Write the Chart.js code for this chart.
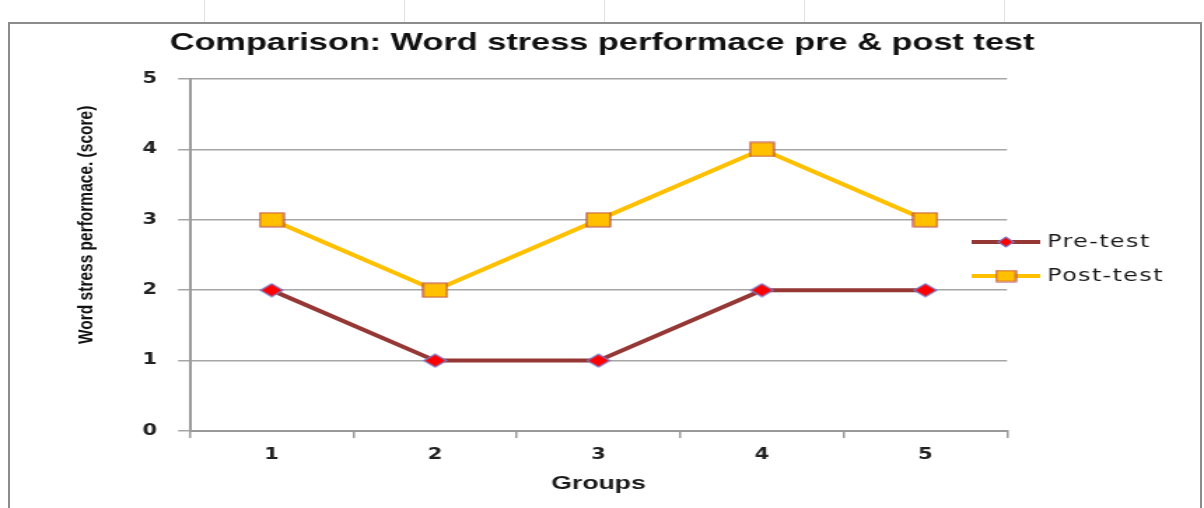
<!DOCTYPE html>
<html>
<head>
<meta charset="utf-8">
<script src="https://cdn.jsdelivr.net/npm/chart.js@4.4.1/dist/chart.umd.min.js"></script>
<style>
  html, body { margin: 0; padding: 0; background: #fff; width: 1204px; height: 508px; overflow: hidden; }
  .cell { position: absolute; top: 0; width: 1px; height: 22px; background: #e2e2e2; }
  #frame { position: absolute; left: 8px; top: 22px; width: 1190px; height: 500px; border: 2px solid #8c8c8c; }
  /* the source picture is stretched sideways, so the chart is drawn narrow and widened */
  #wrap { position: absolute; left: 0; top: 0; width: 860px; height: 508px; transform: scaleX(1.4); transform-origin: 0 0; }
</style>
</head>
<body>
<div class="cell" style="left:204px"></div>
<div class="cell" style="left:404px"></div>
<div class="cell" style="left:604px"></div>
<div class="cell" style="left:804px"></div>
<div class="cell" style="left:1004px"></div>
<div id="frame"></div>
<div id="wrap"><canvas id="myChart" width="860" height="508"></canvas></div>
<script>
const groups = ['1', '2', '3', '4', '5'];
const preTest = [2, 1, 1, 2, 2];
const postTest = [3, 2, 3, 4, 3];
const yMin = 0;
const yMax = 5;

// marker images (flattened shapes, like the Excel ones)
function makeMarker(kind, w, h, fill, stroke) {
    const c = document.createElement('canvas');
    c.width = w + 2;
    c.height = h + 2;
    const g = c.getContext('2d');
    g.fillStyle = fill;
    g.strokeStyle = stroke;
    g.lineWidth = 1.2;
    g.beginPath();
    if (kind === 'diamond') {
        g.moveTo(1, 1 + h / 2);
        g.lineTo(1 + w / 2, 1);
        g.lineTo(1 + w, 1 + h / 2);
        g.lineTo(1 + w / 2, 1 + h);
        g.closePath();
    } else {
        g.rect(1, 1, w, h);
    }
    g.fill();
    g.stroke();
    return c;
}
const diamondPt = makeMarker('diamond', 16, 13, '#ff0000', '#7b7bc6');
const squarePt = makeMarker('square', 17, 14, '#ffc000', '#c0504d');
const diamondKey = makeMarker('diamond', 11, 10, '#ff0000', '#7b7bc6');
const squareKey = makeMarker('square', 14, 11, '#ffc000', '#c0504d');

// legend on the right: line + marker + name
const sideLegend = {
    id: 'sideLegend',
    afterDraw(chart) {
        const ctx = chart.ctx;
        const rowY = [242, 276];
        const keys = [diamondKey, squareKey];
        chart.data.datasets.forEach((ds, i) => {
            const y = rowY[i];
            ctx.save();
            ctx.strokeStyle = ds.borderColor;
            ctx.lineWidth = ds.borderWidth;
            ctx.beginPath();
            ctx.moveTo(694, y);
            ctx.lineTo(743, y);
            ctx.stroke();
            const k = keys[i];
            ctx.drawImage(k, 718.5 - k.width / 2, y - k.height / 2);

            ctx.fillStyle = '#1a1a1a';
            ctx.font = '17px "DejaVu Sans"';
            ctx.letterSpacing = '1px';
            ctx.textBaseline = 'middle';
            ctx.fillText(ds.label, 748, y + 1);
            ctx.restore();
        });
    }
};

const ctx = document.getElementById('myChart').getContext('2d');

const myChart = new Chart(ctx, {
    type: 'line',
    data: {
        labels: groups,
        datasets: [{
            label: 'Pre-test',
            data: preTest,
            borderColor: '#953735',
            borderWidth: 4,
            pointStyle: diamondPt,
            pointRadius: 8,
            tension: 0
        }, {
            label: 'Post-test',
            data: postTest,
            borderColor: '#ffc000',
            borderWidth: 4,
            pointStyle: squarePt,
            pointRadius: 9,
            tension: 0
        }]
    },
    options: {
        responsive: false,
        animation: false,
        devicePixelRatio: 1,
        layout: { padding: 0 },
        plugins: {
            legend: { display: false },
            tooltip: { enabled: false },
            title: {
                display: true,
                text: 'Comparison: Word stress performace pre & post test',
                color: '#111',
                font: { family: 'Liberation Sans', size: 24.5, weight: 'bold' },
                padding: { top: 29, bottom: 20.6 }
            }
        },
        scales: {
            x: {
                offset: true,
                grid: { offset: true, drawOnChartArea: false, drawTicks: true, tickLength: 7, color: '#9a9a9a', lineWidth: 1.5 },
                border: { color: '#9a9a9a', width: 2 },
                ticks: { padding: 8, color: '#222', font: { family: 'DejaVu Sans', size: 15, weight: 'bold' } },
                title: {
                    display: true,
                    text: 'Groups',
                    color: '#1a1a1a',
                    font: { family: 'Liberation Sans', size: 19, weight: 'bold' },
                    padding: { top: 0, bottom: 13 }
                },
                afterFit: s => { s.height = 77; }
            },
            y: {
                min: yMin,
                max: yMax,
                ticks: { stepSize: 1, padding: 15, color: '#222', font: { family: 'DejaVu Sans', size: 15, weight: 'bold' } },
                grid: { color: '#a6a6a6', lineWidth: 1.5, tickLength: 8.5 },
                border: { color: '#9a9a9a', width: 2 },
                title: {
                    display: true,
                    // leading spaces lift the label a little above the axis middle, as in the source
                    text: '              Word stress performace. (score)',
                    color: '#111',
                    font: { family: 'Liberation Sans', size: 15.5, weight: 'bold' },
                    padding: { top: 52, bottom: 0 }
                },
                afterFit: s => { s.width = 135.7; }
            },
            // empty box on the right that holds the room used by the legend
            y2: {
                type: 'linear',
                position: 'right',
                grid: { display: false },
                ticks: { display: false },
                border: { display: false },
                afterFit: s => { s.width = 140.7; }
            }
        }
    },
    plugins: [sideLegend]
});
</script>
</body>
</html>
